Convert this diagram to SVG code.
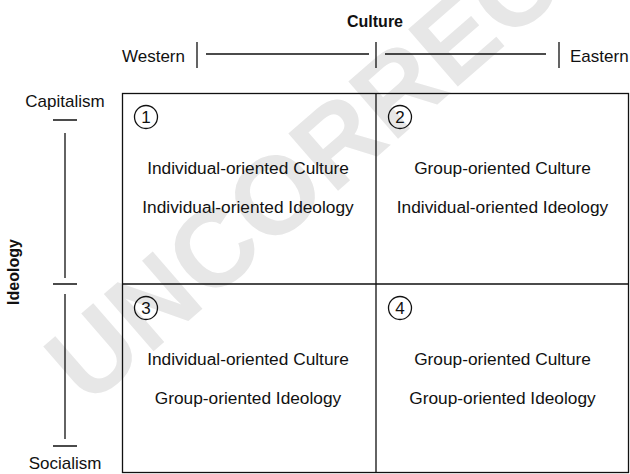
<svg xmlns="http://www.w3.org/2000/svg" width="630" height="474" viewBox="0 0 630 474">
<style>
text{font-family:"Liberation Sans",Arial,Helvetica,sans-serif;fill:#111}
.lbl{font-size:17px}
.cell{font-size:17.3px;text-anchor:middle}
.axis{font-size:16px;font-weight:bold;text-anchor:middle}
.ln{stroke:#111;stroke-width:1.3;fill:none}
.num{fill:none;stroke:#111;stroke-width:1.3}
.dig{font-size:17px;text-anchor:middle}
.wm{font-size:110px;font-weight:bold;fill:#e7e7e7}
</style>
<rect width="630" height="474" fill="#fff"/>
<text class="wm" transform="translate(88,408) rotate(-41)">UNCORRECTED</text>
<g id="culture-axis">
<text class="axis" x="375" y="27">Culture</text>
<text class="lbl" x="122" y="62">Western</text>
<text class="lbl" x="570" y="62">Eastern</text>
</g>
<g id="ideology-axis">
<text class="axis" transform="translate(19,272) rotate(-90)">Ideology</text>
<text class="lbl" x="65" y="107" text-anchor="middle">Capitalism</text>
<text class="lbl" x="65" y="469" text-anchor="middle">Socialism</text>
</g>
<g id="connectors">
<path class="ln" d="M197 42V68M206 54H369M376 42V68M385 54H546M559 42V68"/>
<path class="ln" d="M53 120H77M65 133V278M53 284H77M65 294V439M53 446H77"/>
</g>
<g id="grid">
<rect class="ln" x="122.5" y="93.5" width="506" height="379"/>
<path class="ln" d="M376 93V473M122 284H629"/>
</g>
<g id="q1">
<circle class="num" cx="146" cy="117" r="11.5"/>
<text class="dig" x="146" y="123">1</text>
<text class="cell" x="248" y="174">Individual-oriented Culture</text>
<text class="cell" x="248" y="213">Individual-oriented Ideology</text>
</g>
<g id="q2">
<circle class="num" cx="400" cy="117" r="11.5"/>
<text class="dig" x="400" y="123">2</text>
<text class="cell" x="502.5" y="174">Group-oriented Culture</text>
<text class="cell" x="502.5" y="213">Individual-oriented Ideology</text>
</g>
<g id="q3">
<circle class="num" cx="146" cy="308" r="11.5"/>
<text class="dig" x="146" y="314">3</text>
<text class="cell" x="248" y="365">Individual-oriented Culture</text>
<text class="cell" x="248" y="404">Group-oriented Ideology</text>
</g>
<g id="q4">
<circle class="num" cx="400" cy="308" r="11.5"/>
<text class="dig" x="400" y="314">4</text>
<text class="cell" x="502.5" y="365">Group-oriented Culture</text>
<text class="cell" x="502.5" y="404">Group-oriented Ideology</text>
</g>
</svg>
